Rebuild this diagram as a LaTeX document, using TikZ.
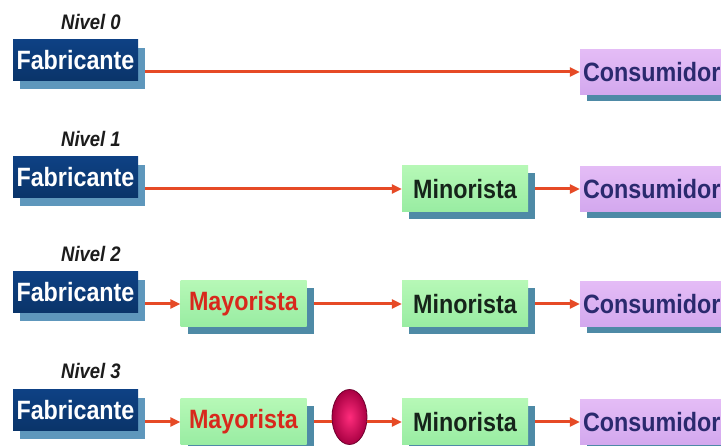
\documentclass[tikz,border=0pt]{standalone}
\usepackage{fontspec}
\usetikzlibrary{shadows,arrows.meta,shapes.geometric}
\newfontfamily\diagfont{Liberation Sans}[FakeStretch=0.88]

\definecolor{fabtop}{HTML}{0E4184}
\definecolor{fabbot}{HTML}{0A3469}
\definecolor{fabside}{HTML}{5E97BC}
\definecolor{greentop}{HTML}{B6F8B6}
\definecolor{greenbot}{HTML}{98ECA2}
\definecolor{lavtop}{HTML}{E4BCF6}
\definecolor{lavbot}{HTML}{D3A8EE}
\definecolor{boxside}{HTML}{4E8AA6}
\definecolor{arrowred}{HTML}{E64A26}
\definecolor{mayred}{HTML}{D8281C}
\definecolor{mintext}{HTML}{16241A}
\definecolor{context}{HTML}{2A2A6E}
\definecolor{niveltext}{HTML}{1C1C1C}
\definecolor{discin}{HTML}{FF2C7C}
\definecolor{discout}{HTML}{A80042}
\definecolor{discrim}{HTML}{70002E}

\begin{document}
\begin{tikzpicture}[x=1pt,y=-1pt,
  boxfont/.style={font=\diagfont\bfseries\fontsize{26.5}{30}\selectfont},
  nivel/.style={anchor=west,inner sep=0pt,text=niveltext,
    font=\diagfont\bfseries\itshape\fontsize{21}{24}\selectfont},
  fabbox/.style={boxfont,rectangle,inner sep=0pt,minimum width=125pt,minimum height=41pt,
    top color=fabtop,bottom color=fabbot,text=white,
    general shadow={fill=fabside,shadow xshift=7pt,shadow yshift=-8pt}},
  greenbox/.style={boxfont,rectangle,inner sep=0pt,minimum width=126pt,minimum height=46pt,
    top color=greentop,bottom color=greenbot,
    general shadow={fill=boxside,shadow xshift=7pt,shadow yshift=-7pt}},
  minbox/.style={greenbox,text=mintext},
  maybox/.style={greenbox,text=mayred},
  conbox/.style={boxfont,rectangle,inner xsep=3pt,inner ysep=0pt,text width=159pt,align=left,
    minimum height=45pt,top color=lavtop,bottom color=lavbot,text=context,
    general shadow={fill=boxside,shadow xshift=7pt,shadow yshift=-7pt}},
  disc/.style={ellipse,inner sep=0pt,minimum width=35pt,minimum height=55pt,
    draw=discrim,line width=0.8pt,inner color=discin,outer color=discout},
  link/.style={draw=arrowred,line width=3pt},
  arr/.style={link,-{Triangle[length=10pt,width=9pt]}}]

\useasboundingbox (0,0) rectangle (721,446);
\fill[white] (0,0) rectangle (721,446);
\clip (0,0) rectangle (721,446);

% ---------- Nivel 0 ----------
\node[nivel] (n0) at (61,22) {Nivel 0};
\node[fabbox] (fab0) at (75.5,60.5) {Fabricante};
\node[conbox] (con0) at (662.5,72) {Consumidor};
\coordinate (f0) at ([xshift=7pt]fab0.east);
\draw[arr] (f0 |- con0.west) -- (con0.west);

% ---------- Nivel 1 ----------
\node[nivel] (n1) at (61,139) {Nivel 1};
\node[fabbox] (fab1) at (75.5,177.5) {Fabricante};
\node[minbox] (min1) at (465,189) {Minorista};
\node[conbox] (con1) at (662.5,189) {Consumidor};
\coordinate (f1) at ([xshift=7pt]fab1.east);
\coordinate (m1) at ([xshift=7pt]min1.east);
\draw[arr] (f1 |- min1.west) -- (min1.west);
\draw[arr] (m1) -- (con1.west);

% ---------- Nivel 2 ----------
\node[nivel] (n2) at (61,254) {Nivel 2};
\node[fabbox] (fab2) at (75.5,292.5) {Fabricante};
\node[maybox] (may2) at (243.5,304) {Mayorista};
\node[minbox] (min2) at (465,304) {Minorista};
\node[conbox] (con2) at (662.5,304) {Consumidor};
\coordinate (f2) at ([xshift=7pt]fab2.east);
\coordinate (y2) at ([xshift=7pt]may2.east);
\coordinate (m2) at ([xshift=7pt]min2.east);
\draw[arr] (f2 |- may2.west) -- (may2.west);
\draw[arr] (y2) -- (min2.west);
\draw[arr] (m2) -- (con2.west);

% ---------- Nivel 3 ----------
\node[nivel] (n3) at (61,371) {Nivel 3};
\node[fabbox] (fab3) at (75.5,410.5) {Fabricante};
\node[maybox] (may3) at (243.5,422) {Mayorista};
\node[disc] (disc3) at (349.5,417) {};
\node[minbox] (min3) at (465,422) {Minorista};
\node[conbox] (con3) at (662.5,422) {Consumidor};
\coordinate (f3) at ([xshift=7pt]fab3.east);
\coordinate (y3) at ([xshift=7pt]may3.east);
\coordinate (m3) at ([xshift=7pt]min3.east);
\draw[arr] (f3 |- may3.west) -- (may3.west);
\draw[link] (y3) -- (disc3.west |- y3);
\draw[arr] (disc3.east |- y3) -- (min3.west);
\draw[arr] (m3) -- (con3.west);

\end{tikzpicture}
\end{document}
